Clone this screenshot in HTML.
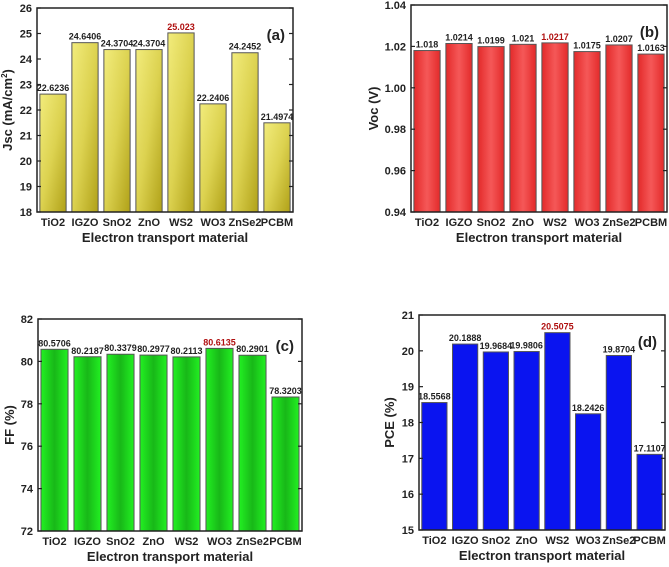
<!DOCTYPE html>
<html><head><meta charset="utf-8"><style>
body{margin:0;background:#fff;width:669px;height:567px;overflow:hidden}
svg{display:block;font-family:"Liberation Sans",Arial,sans-serif;font-weight:bold}
</style></head><body>
<svg id="c" width="669" height="567">
<defs>
<linearGradient id="gy" x1="0" y1="0" x2="1" y2="1"><stop offset="0" stop-color="#f2ec7c"/><stop offset="0.5" stop-color="#dcd250"/><stop offset="1" stop-color="#b0a118"/></linearGradient>
<linearGradient id="gr" x1="0" y1="0" x2="1" y2="0"><stop offset="0" stop-color="#e32a2a"/><stop offset="0.5" stop-color="#f55858"/><stop offset="1" stop-color="#e32a2a"/></linearGradient>
<linearGradient id="gg" x1="0" y1="0" x2="1" y2="0"><stop offset="0" stop-color="#22f022"/><stop offset="0.5" stop-color="#18b818"/><stop offset="1" stop-color="#22f022"/></linearGradient>
</defs>
</svg>
<script>
const categories=["TiO2","IGZO","SnO2","ZnO","WS2","WO3","ZnSe2","PCBM"];
const jscValues=[22.6236,24.6406,24.3704,24.3704,25.023,22.2406,24.2452,21.4974];
const jscLabels=["22.6236","24.6406","24.3704","24.3704","25.023","22.2406","24.2452","21.4974"];
const jscTicks=[18,19,20,21,22,23,24,25,26];
const vocValues=[1.018,1.0214,1.0199,1.021,1.0217,1.0175,1.0207,1.0163];
const vocLabels=["1.018","1.0214","1.0199","1.021","1.0217","1.0175","1.0207","1.0163"];
const vocTicks=[0.94,0.96,0.98,1.00,1.02,1.04];
const ffValues=[80.5706,80.2187,80.3379,80.2977,80.2113,80.6135,80.2901,78.3203];
const ffLabels=["80.5706","80.2187","80.3379","80.2977","80.2113","80.6135","80.2901","78.3203"];
const ffTicks=[72,74,76,78,80,82];
const pceValues=[18.5568,20.1888,19.9684,19.9806,20.5075,18.2426,19.8704,17.1107];
const pceLabels=["18.5568","20.1888","19.9684","19.9806","20.5075","18.2426","19.8704","17.1107"];
const pceTicks=[15,16,17,18,19,20,21];

const svg=document.getElementById('c');
const NS='http://www.w3.org/2000/svg';
function mk(tag,attrs,parent){const e=document.createElementNS(NS,tag);for(const k in attrs)e.setAttribute(k,attrs[k]);(parent||svg).appendChild(e);return e;}

function panel(o){
  const g=mk('g',{});
  
  
  const ymin=o.ticks[0],ymax=o.ticks[o.ticks.length-1];
  const Y=v=>o.y1-(v-ymin)/(ymax-ymin)*(o.y1-o.y0);
  const slot=(o.x1-o.x0)/categories.length;
  const X=i=>o.x0+slot*(i+0.5);
  const redIdx=o.vals.indexOf(Math.max(...o.vals));
  o.vals.forEach((v,i)=>{
    const bw=slot*0.82;
    const r=mk('rect',{x:X(i)-bw/2,y:Y(v),width:bw,height:o.y1-Y(v),fill:o.fill,stroke:'#555','stroke-width':1},g);
    
    
    const t=mk('text',{x:X(i),y:Y(v)-3,'text-anchor':'middle','font-size':9,fill:i===redIdx?'#b01010':'#222'},g);
    t.textContent=o.labels[i];
    
    
    const c=mk('text',{x:X(i),y:o.y1+14,'text-anchor':'middle','font-size':11,fill:'#222'},g);
    c.textContent=categories[i];
    
    
  });
  o.ticks.forEach(tv=>{
    const y=Y(tv);
    mk('line',{x1:o.x0,x2:o.x0+4,y1:y,y2:y,stroke:'#222','stroke-width':1.2},g);
    mk('line',{x1:o.x1,x2:o.x1-4,y1:y,y2:y,stroke:'#222','stroke-width':1.2},g);
    const t=mk('text',{x:o.x0-5,y:y+4,'text-anchor':'end','font-size':11,fill:'#222'},g);
    t.textContent=o.fmt(tv);
    
    
  });
  const box=mk('rect',{x:o.x0,y:o.y0,width:o.x1-o.x0,height:o.y1-o.y0,fill:'none',stroke:'#222','stroke-width':1.5},g);
  
  
  const xt=mk('text',{x:(o.x0+o.x1)/2,y:o.y1+30,'text-anchor':'middle','font-size':13,fill:'#222'},g);
  xt.textContent='Electron transport material';
  
  
  const yt=mk('text',{x:0,y:0,'text-anchor':'middle','font-size':13,fill:'#222',transform:`translate(${o.ylx},${(o.y0+o.y1)/2}) rotate(-90)`},g);
  yt.innerHTML=o.ytitle;
  
  
  const pl=mk('text',{x:o.x1-8,y:o.y0+32,'text-anchor':'end','font-size':15,fill:'#222'},g);
  pl.textContent=o.panelLabel;
  
  
}
panel({name:'jsc',x0:37,x1:293,y0:8,y1:212,ticks:jscTicks,vals:jscValues,labels:jscLabels,fill:'url(#gy)',fmt:v=>String(v),ylx:12,ytitle:'Jsc (mA/cm<tspan font-size="8" dy="-5">2</tspan><tspan dy="5">)</tspan>',panelLabel:'(a)'});
panel({name:'voc',x0:411,x1:667,y0:5,y1:212,ticks:vocTicks,vals:vocValues,labels:vocLabels,fill:'url(#gr)',fmt:v=>v.toFixed(2),ylx:378,ytitle:'Voc (V)',panelLabel:'(b)'});
panel({name:'ff',x0:38,x1:302,y0:319,y1:531,ticks:ffTicks,vals:ffValues,labels:ffLabels,fill:'url(#gg)',fmt:v=>String(v),ylx:14,ytitle:'FF (%)',panelLabel:'(c)'});
panel({name:'pce',x0:419,x1:665,y0:315,y1:530,ticks:pceTicks,vals:pceValues,labels:pceLabels,fill:'#0a14f0',fmt:v=>String(v),ylx:394,ytitle:'PCE (%)',panelLabel:'(d)'});
</script>
</body></html>
